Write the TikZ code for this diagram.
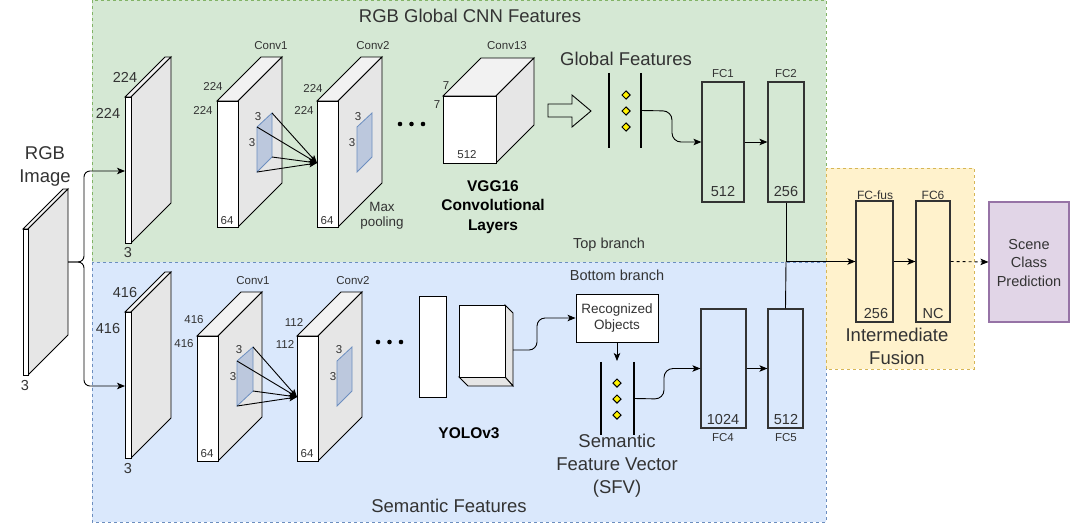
\documentclass[tikz,border=0pt]{standalone}
\usepackage{fontspec}
\setmainfont{Liberation Sans}
\usetikzlibrary{shapes.geometric,arrows.meta}
\definecolor{gfill}{HTML}{D5E8D4}\definecolor{gline}{HTML}{82B366}
\definecolor{bfill}{HTML}{DAE8FC}\definecolor{bline}{HTML}{6C8EBF}
\definecolor{yfill}{HTML}{FFF2CC}\definecolor{yline}{HTML}{D6B656}
\definecolor{pfill}{HTML}{E1D5E7}\definecolor{pline}{HTML}{9673A6}
\definecolor{txt}{HTML}{333333}
\definecolor{sidegray}{HTML}{E6E6E6}
\definecolor{topgray}{HTML}{F2F2F2}
\definecolor{filt}{HTML}{BCC8DD}
\newcommand\slabbox[5]{%
\filldraw[cubeline,fill=topgray] (#1,#2) -- ++(#5,-#5) -- ++(#3,0) -- ++(-#5,#5) -- cycle;
\filldraw[cubeline,fill=sidegray] (#1+#3,#2) -- ++(#5,-#5) -- ++(0,#4) -- ++(-#5,#5) -- cycle;
\filldraw[cubeline,fill=white] (#1,#2) rectangle ++(#3,#4);}
\tikzset{
 cubeline/.style={draw=black,line width=0.9pt,line join=miter},
 arr/.style={draw=black,line width=0.9pt,-{Stealth[length=8pt,width=6.5pt,inset=2pt]}},
 conn/.style={draw=black,line width=0.9pt},
 filter/.style={draw=bline,fill=filt,line width=0.8pt},
 bar/.style={draw=black,line width=2.2pt},
 dmd/.style={diamond,draw=black,fill=yellow,line width=1pt,minimum size=8.5pt,inner sep=0},
 fcbox/.style={draw=black!80,line width=1.2pt,inner sep=0},
 lbls/.style={inner sep=0,text=txt,font=\fontsize{11.5}{13}\selectfont},
 lblm/.style={inner sep=0,text=txt,font=\fontsize{14.5}{16}\selectfont},
 lblb/.style={inner sep=0,text=txt,font=\fontsize{18.5}{23}\selectfont,align=center},
 boldl/.style={inner sep=0,text=black,font=\fontsize{15.5}{19.5}\selectfont\bfseries,align=center},
}
\begin{document}
\begin{tikzpicture}[x=1pt,y=-1pt]
\useasboundingbox (0,0) rectangle (1070,523);
\fill[white] (0,0) rectangle (1070,523);
% regions
\filldraw[fill=gfill,draw=gline,dashed,line width=0.8pt] (92,0) rectangle (826,262);
\filldraw[fill=bfill,draw=bline,dashed,line width=0.8pt] (92,262) rectangle (826,522);
\filldraw[fill=yfill,draw=yline,dashed,line width=0.8pt] (826,168) rectangle (974,369);
\node[draw=pline,fill=pfill,line width=1.1pt,minimum width=80pt,minimum height=120pt,inner sep=0] (pred) at (1029,262) {};
\node[inner sep=0,text=txt,font=\fontsize{14.5}{18}\selectfont,align=center] (predt) at (1029,263) {Scene\\Class\\Prediction};
% titles
\node[lblb] (title1) at (470,16) {RGB Global CNN Features};
\node[lblb] (title2) at (449,506) {Semantic Features};
\node[lblm] (topbr) at (609,245) {Top branch};
\node[lblm] (botbr) at (617,275) {Bottom branch};
% input image
\node[lblb] (rgbt) at (45,166.5) {RGB\\Image};
\slabbox{23}{229}{5}{146}{40}
\node[lblm] (in3) at (25,385) {3};
\coordinate (inR) at (68,262);
% top first slab
\slabbox{125}{97}{6}{146}{40}
\node[lblm] (ts1) at (125,77) {224};
\node[lblm] (ts2) at (108,113) {224};
\node[lblm] (ts3) at (128,253) {3};
\coordinate (topIn) at (125,171);
% bottom first slab
\slabbox{125}{312}{6}{146}{40}
\node[lblm] (bs1) at (125,292) {416};
\node[lblm] (bs2) at (108,328) {416};
\node[lblm] (bs3) at (128,468) {3};
\coordinate (botIn) at (125,386);
% brace connectors
\draw[arr,rounded corners=6pt] (inR) -- (84,262) -- (84,171) -- (topIn);
\draw[arr,rounded corners=6pt] (inR) -- (84,262) -- (84,386) -- (botIn);
% top conv1
\slabbox{217}{101}{21}{126}{44}
\node[lbls] (tc1) at (271,46) {Conv1};
\node[lbls] (tc1a) at (213,86) {224};
\node[lbls] (tc1b) at (203,110) {224};
\node[lbls] (tc1c) at (227,221) {64};
% top conv2
\slabbox{317}{101}{21}{126}{44}
\node[lbls] (tc2) at (373,46) {Conv2};
\node[lbls] (tc2a) at (313,88) {224};
\node[lbls] (tc2b) at (304,110) {224};
\node[lbls] (tc2c) at (327,221) {64};
\filldraw[filter] (357,127) -- (372,113) -- (372,157) -- (357,172) -- cycle;
\node[lbls] (tf2a) at (358,117) {3};
\node[lbls] (tf2b) at (352,143) {3};
\node[inner sep=0,text=txt,font=\fontsize{13.4}{15}\selectfont,align=center] (maxp) at (382,215.5) {Max\\pooling};
% top filter conv1
\coordinate (f1a) at (257,127);\coordinate (f1b) at (272,113);
\coordinate (f1c) at (272,157);\coordinate (f1d) at (257,172);
\coordinate (t2in) at (317,163);
\filldraw[filter] (f1a) -- (f1b) -- (f1c) -- (f1d) -- cycle;
\node[lbls] (tf1a) at (258,117) {3};
\node[lbls] (tf1b) at (252,143) {3};
\foreach \c in {f1a,f1b,f1c,f1d} \draw[arr] (\c) -- (t2in);
% dots
\foreach \x in {400,411.5,423} \fill (\x,124) circle[radius=2.3pt];
\foreach \x in {378,389.5,401} \fill (\x,342) circle[radius=2.3pt];
% conv13
\slabbox{443}{96}{53}{67}{38}
\node[lbls] (c13) at (507,46) {Conv13};
\node[lbls] (c13a) at (446,86) {7};
\node[lbls] (c13b) at (437,105) {7};
\node[lbls] (c13c) at (467,155) {512};
\node[boldl] (vgg) at (493,207) {VGG16\\Convolutional\\Layers};
% hollow arrow
\draw[line width=0.9pt,line join=miter] (548,104) -- (572,104) -- (572,95) -- (591,111) -- (572,127) -- (572,117) -- (548,117) -- cycle;
% global features
\node[lblb] (gft) at (626,59) {Global Features};
\node[inner sep=0,minimum width=32pt,minimum height=75pt] (gfv) at (625,110.5) {};
\draw[bar] (gfv.north west) -- (gfv.south west);
\draw[bar] (gfv.north east) -- (gfv.south east);
\node[dmd] (gd1) at (626,95) {};
\node[dmd] (gd2) at (626,111) {};
\node[dmd] (gd3) at (626,127) {};
% FC1 FC2
\node[fcbox,minimum width=42pt,minimum height=120pt] (fc1) at (723,142) {};
\node[fcbox,minimum width=36pt,minimum height=120pt] (fc2) at (786,142) {};
\node[lbls] (fc1t) at (723,74) {FC1};
\node[lbls] (fc2t) at (786,74) {FC2};
\node[lblm] (fc1n) at (723,192) {512};
\node[lblm] (fc2n) at (786,192) {256};
\draw[arr,rounded corners=9pt] (gfv.east) -- (672,111) |- (fc1.west);
\draw[arr] (fc1.east) -- (fc2.west);
% bottom conv1
\slabbox{197}{336}{21}{125}{44}
\node[lbls] (bc1) at (253,281) {Conv1};
\node[lbls] (bc1a) at (194,320) {416};
\node[lbls] (bc1b) at (184,344) {416};
\node[lbls] (bc1c) at (207,454) {64};
% bottom conv2
\slabbox{297}{336}{21}{125}{44}
\node[lbls] (bc2) at (353,281) {Conv2};
\node[lbls] (bc2a) at (294,322) {112};
\node[lbls] (bc2b) at (285,344) {112};
\node[lbls] (bc2c) at (307,454) {64};
\filldraw[filter] (337,361) -- (352,347) -- (352,391) -- (337,406) -- cycle;
\node[lbls] (bf2a) at (339,350) {3};
\node[lbls] (bf2b) at (333,377) {3};
% bottom filter conv1
\coordinate (g1a) at (237,361);\coordinate (g1b) at (253,347);
\coordinate (g1c) at (253,391);\coordinate (g1d) at (237,406);
\coordinate (b2in) at (297,397);
\filldraw[filter] (g1a) -- (g1b) -- (g1c) -- (g1d) -- cycle;
\node[lbls] (bf1a) at (239,350) {3};
\node[lbls] (bf1b) at (233,377) {3};
\foreach \c in {g1a,g1b,g1c,g1d} \draw[arr] (\c) -- (b2in);
% yolo
\filldraw[cubeline,fill=white] (419,296) rectangle (446,397);
\filldraw[cubeline,fill=sidegray] (505,305) -- (513,313) -- (513,386) -- (505,377) -- cycle;
\filldraw[cubeline,fill=sidegray] (459,377) -- (505,377) -- (513,386) -- (468,386) -- cycle;
\filldraw[cubeline,fill=white] (459,305) rectangle (505,377);
\coordinate (yolo) at (513,350);
\node[boldl] (yolot) at (469,433) {YOLOv3};
% recognized objects
\node[draw=black,fill=white,line width=0.9pt,minimum width=82pt,minimum height=48pt,inner sep=0,text=txt,font=\fontsize{13.5}{16}\selectfont,align=center] (rec) at (617,318) {Recognized\\Objects};
\draw[arr,rounded corners=8pt] (yolo) -- (537,350) |- (rec.west);
% SFV
\node[inner sep=0,minimum width=33pt,minimum height=73pt] (sfv) at (617.5,398.5) {};
\draw[bar] (sfv.north west) -- (sfv.south west);
\draw[bar] (sfv.north east) -- (sfv.south east);
\node[dmd] (sd1) at (617,383) {};
\node[dmd] (sd2) at (617,399) {};
\node[dmd] (sd3) at (617,415) {};
\coordinate (sfvtop) at (617,361);
\draw[arr] (rec.south) -- (sfvtop);
\node[lblb] (sfvt) at (617,466) {Semantic\\Feature Vector\\(SFV)};
% FC4 FC5
\node[fcbox,minimum width=45pt,minimum height=119pt] (fc4) at (723.5,368.5) {};
\node[fcbox,minimum width=35pt,minimum height=119pt] (fc5) at (785.5,368.5) {};
\node[lblm] (fc4n) at (723,419) {1024};
\node[lblm] (fc5n) at (786,419) {512};
\node[lbls] (fc4t) at (723,438) {FC4};
\node[lbls] (fc5t) at (786,438) {FC5};
\draw[arr,rounded corners=9pt] (sfv.east) -- (664,399) |- (fc4.west);
\draw[arr] (fc4.east) -- (fc5.west);
% fusion
\node[fcbox,minimum width=37pt,minimum height=121pt] (fcfus) at (874.5,261.5) {};
\node[fcbox,minimum width=34pt,minimum height=121pt] (fc6) at (933,261.5) {};
\node[inner sep=0,text=txt,font=\fontsize{12}{14}\selectfont] (fcfust) at (875,195) {FC-fus};
\node[inner sep=0,text=txt,font=\fontsize{12}{14}\selectfont] (fc6t) at (933,195) {FC6};
\node[lblm] (fcfusn) at (876,313) {256};
\node[lblm] (fc6n) at (933,313) {NC};
\node[lblb] (fust) at (897,346.5) {Intermediate\\Fusion};
\coordinate (j) at (786,261.5);
\draw[conn] (fc2.south) -- (j);
\draw[conn] (fc5.north) -- (j);
\draw[arr] (j) -- (fcfus.west);
\draw[arr] (fcfus.east) -- (fc6.west);
\draw[arr,dashed] (fc6.east) -- (pred.west);
\end{tikzpicture}
\end{document}
